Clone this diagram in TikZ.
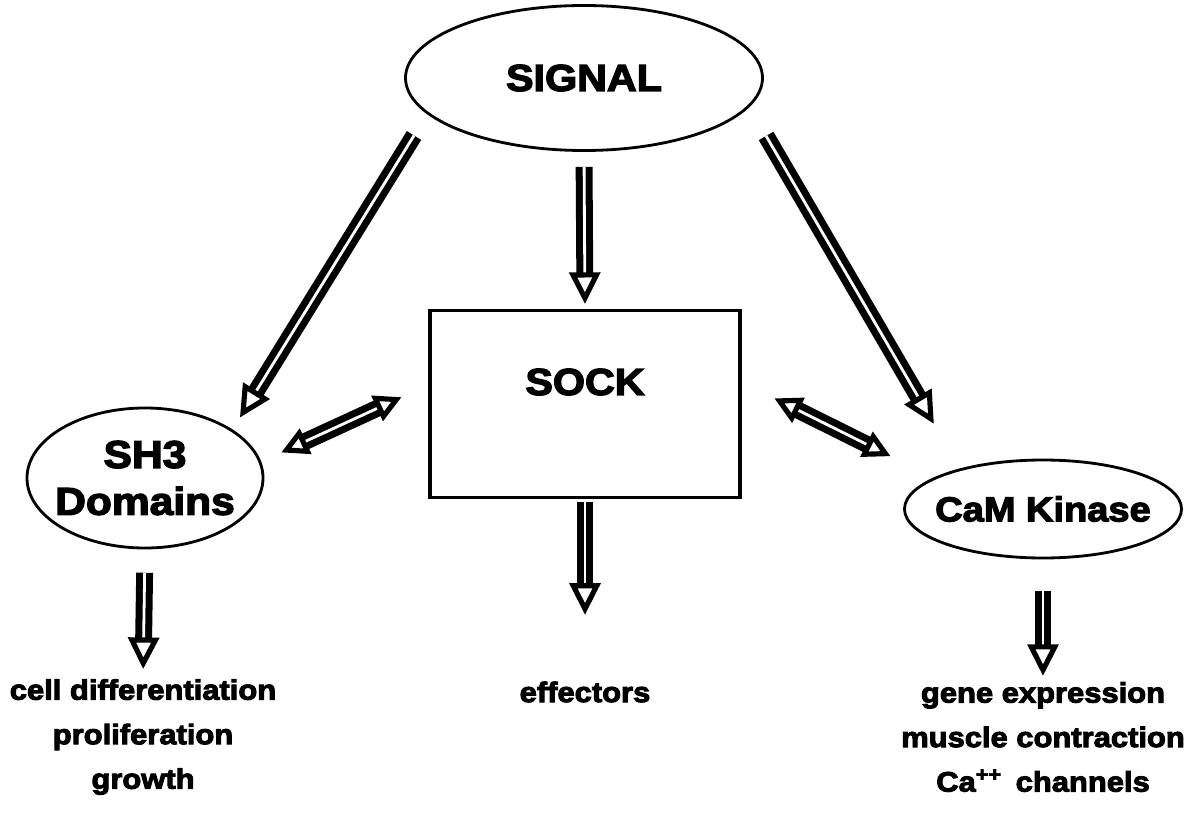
\documentclass[tikz,border=0pt]{standalone}
\usepackage{fontspec}
\newfontfamily\heavy{Liberation Sans Bold}[FakeBold=3.5, FakeStretch=1.1]
\usetikzlibrary{shapes.geometric, arrows.meta}

\tikzset{
  blob/.style={ellipse, draw, line width=2.4pt, inner sep=0pt},
  hollow/.style={double, double distance=2.4pt, line width=6pt,
    -{Triangle[open, length=27pt, width=26pt, line width=4.4pt]}},
  hollowboth/.style={hollow,
    {Triangle[open, length=23pt, width=23pt, line width=4.4pt]}-{Triangle[open, length=23pt, width=23pt, line width=4.4pt]}},
  outcome/.style={align=center, inner sep=0pt, font=\heavy\fontsize{24}{38}\selectfont}
}

\begin{document}
\begin{tikzpicture}[x=0.03cm, y=-0.03cm]
\useasboundingbox (0,0) rectangle (1191,814);

% the four boxes
\node[blob, minimum width=10.71cm, minimum height=4.35cm,
      font=\heavy\fontsize{32}{38}\selectfont] (signal) at (584,78) {SIGNAL};
\node[draw, line width=2.6pt, minimum width=9.3cm, minimum height=5.61cm,
      label={[yshift=0.66cm, font=\heavy\fontsize{32}{38}\selectfont]center:SOCK}] (sock) at (585,404) {};
\node[blob, inner xsep=-12pt, minimum width=7.08cm, minimum height=4.2cm, align=center,
      font=\heavy\fontsize{33}{40}\selectfont] (sh3) at (145,478) {SH3\\Domains};
\node[blob, inner xsep=-11pt, minimum width=8.31cm, minimum height=2.94cm,
      font=\heavy\fontsize{29.5}{36}\selectfont] (cam) at (1043,509) {CaM Kinase};

% what comes out of them
\node[outcome] (diff) at (143,737) {cell differentiation\\proliferation\\growth};
\node[outcome] (eff) at (585,692) {effectors};
\node[outcome] (gene) at (1043,737) {gene expression\\muscle contraction\\Ca\textsuperscript{++}\enspace channels};

% signal goes down to all three
\draw[hollow, shorten <=0.75cm, shorten >=0.42cm] (signal.193) -- (sh3.29.4);
\draw[hollow, shorten <=0.45cm, shorten >=0.15cm] (signal.south) -- (sock.north);
\draw[hollow, shorten <=1cm, shorten >=1.55cm] (signal.350) -- (cam.154);

% two way links with SOCK
\draw[hollowboth, shorten <=0.66cm, shorten >=0.89cm] (sh3.8.4) -- (sock.173);
\draw[hollowboth, shorten <=1.1cm, shorten >=1.44cm] (sock.8) -- (cam.164);

% downstream
\draw[hollow, shorten <=0.7cm, shorten >=0.3cm] (sh3.south) -- (diff.north);
\draw[hollow, shorten <=0.09cm, shorten >=2cm] (sock.south) -- (eff.north);
\draw[hollow, shorten <=0.96cm, shorten >=0.18cm] (cam.south) -- (gene.north);
\end{tikzpicture}
\end{document}
